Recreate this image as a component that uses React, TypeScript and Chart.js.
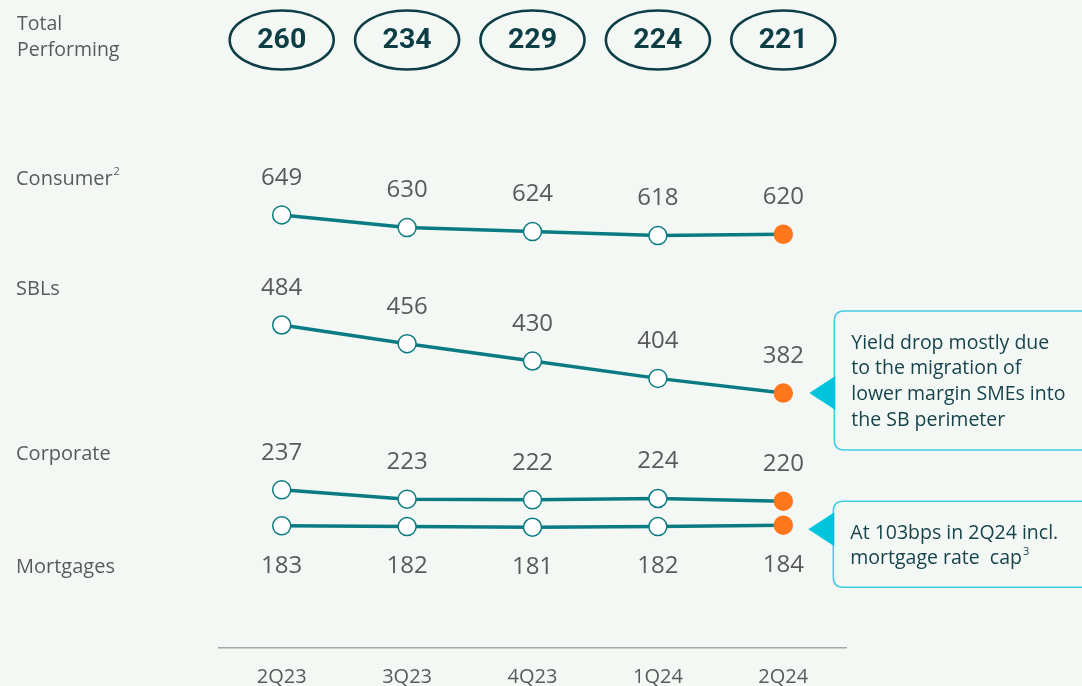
import React, { useEffect, useRef } from "react";
import { Chart, registerables } from "chart.js";

Chart.register(...registerables);

// ---------- data ----------
const quarters = ["2Q23", "3Q23", "4Q23", "1Q24", "2Q24"];
const totalPerforming = [260, 234, 229, 224, 221];
const consumer = [649, 630, 624, 618, 620];
const sbls = [484, 456, 430, 404, 382];
const corporate = [237, 223, 222, 224, 220];
const mortgages = [183, 182, 181, 182, 184];
const seriesNames = ["Consumer", "SBLs", "Corporate", "Mortgages"];
const seriesSup = ["2", "", "", ""];
const labelSide = ["above", "above", "above", "below"];
const noteSBL = ["Yield drop mostly due", "to the migration of", "lower margin SMEs into", "the SB perimeter"];
const noteMortgage = ["At 103bps in 2Q24 incl.", "mortgage rate  cap"];
const noteMortgageSup = "3";

// ---------- styles ----------
const BG = "#f4f8f5";
const TEAL = "#0a7b82";
const ORANGE = "#ff761b";
const GREY_TEXT = "#5a5a5a";
const DARK = "#0d3d45";
const NOTE_TEXT = "#17434c";
const CYAN = "#00c4dc";
const CYAN_BORDER = "#3fcde2";
const FONT = "'Open Sans', sans-serif";

function drawSup(ctx: CanvasRenderingContext2D, text: string, sup: string, x: number, y: number, size: number, color: string) {
  ctx.save();
  ctx.fillStyle = color;
  ctx.font = `${size}px ${FONT}`;
  ctx.textAlign = "left";
  ctx.textBaseline = "middle";
  ctx.fillText(text, x, y);
  if (sup) {
    const w = ctx.measureText(text).width;
    ctx.font = `${Math.round(size * 0.55)}px ${FONT}`;
    ctx.fillText(sup, x + w + 1, y - size * 0.35);
  }
  ctx.restore();
}

function roundRect(ctx: CanvasRenderingContext2D, x: number, y: number, w: number, h: number, r: number) {
  ctx.beginPath();
  ctx.moveTo(x + r, y);
  ctx.lineTo(x + w - r, y);
  ctx.quadraticCurveTo(x + w, y, x + w, y + r);
  ctx.lineTo(x + w, y + h - r);
  ctx.quadraticCurveTo(x + w, y + h, x + w - r, y + h);
  ctx.lineTo(x + r, y + h);
  ctx.quadraticCurveTo(x, y + h, x, y + h - r);
  ctx.lineTo(x, y + r);
  ctx.quadraticCurveTo(x, y, x + r, y);
  ctx.closePath();
}

function drawNote(ctx: CanvasRenderingContext2D, px: number, py: number, lines: string[], sup: string, tipDy: number, topDy: number, h: number) {
  const tipX = px + 26;
  const tipY = py + tipDy;
  const boxX = tipX + 25;
  const boxY = py + topDy;
  ctx.save();
  roundRect(ctx, boxX, boxY, 300, h, 10);
  ctx.fillStyle = BG;
  ctx.fill();
  ctx.strokeStyle = CYAN_BORDER;
  ctx.lineWidth = 1.5;
  ctx.stroke();
  ctx.beginPath();
  ctx.moveTo(tipX, tipY);
  ctx.lineTo(boxX + 1, tipY - 17);
  ctx.lineTo(boxX + 1, tipY + 17);
  ctx.closePath();
  ctx.fillStyle = CYAN;
  ctx.fill();
  ctx.restore();
  lines.forEach((ln, i) => {
    drawSup(ctx, ln, i === lines.length - 1 ? sup : "", boxX + 17, boxY + 32 + i * 25.7, 19.5, NOTE_TEXT);
  });
}

const decorPlugin = {
  id: "decor",
  beforeDraw(chart: any) {
    const { ctx, width, height } = chart;
    ctx.save();
    ctx.fillStyle = BG;
    ctx.fillRect(0, 0, width, height);
    ctx.restore();
  },
  afterDatasetsDraw(chart: any) {
    const { ctx } = chart;
    const xs = chart.scales.x;
    // Total performing ovals
    drawSup(ctx, "Total", "", 17, 24, 19.5, GREY_TEXT);
    drawSup(ctx, "Performing", "", 17, 50, 19.5, GREY_TEXT);
    totalPerforming.forEach((v, i) => {
      const cx = xs.getPixelForValue(i);
      ctx.save();
      ctx.beginPath();
      ctx.ellipse(cx, 40, 52, 29.5, 0, 0, Math.PI * 2);
      ctx.strokeStyle = DARK;
      ctx.lineWidth = 2.6;
      ctx.stroke();
      ctx.fillStyle = DARK;
      ctx.font = `bold 28.5px Roboto, 'Liberation Sans', sans-serif`;
      ctx.textAlign = "center";
      ctx.textBaseline = "middle";
      ctx.fillText(String(v), cx, 41);
      ctx.restore();
    });
    // value labels and series names
    chart.data.datasets.forEach((ds: any, di: number) => {
      const meta = chart.getDatasetMeta(di);
      const dy = labelSide[di] === "above" ? -37 : 40;
      meta.data.forEach((pt: any, i: number) => {
        ctx.save();
        ctx.fillStyle = GREY_TEXT;
        ctx.font = `24px ${FONT}`;
        ctx.textAlign = "center";
        ctx.textBaseline = "middle";
        ctx.fillText(String(ds.data[i]), pt.x, pt.y + dy);
        ctx.restore();
      });
      const first = meta.data[0];
      drawSup(ctx, seriesNames[di], seriesSup[di], 16, first.y + dy + 1, 20, GREY_TEXT);
    });
    // callouts
    const sMeta = chart.getDatasetMeta(1).data;
    const sLast = sMeta[sMeta.length - 1];
    drawNote(ctx, sLast.x, sLast.y, noteSBL, "", 0, -82, 139);
    const mMeta = chart.getDatasetMeta(3).data;
    const mLast = mMeta[mMeta.length - 1];
    drawNote(ctx, mLast.x - 1, mLast.y, noteMortgage, noteMortgageSup, 4, -24, 86);
  },
};

function pointColors(n: number, normal: string, last: string) {
  return Array.from({ length: n }, (_, i) => (i === n - 1 ? last : normal));
}

export default function App() {
  const ref = useRef<HTMLCanvasElement>(null);
  useEffect(() => {
    if (!ref.current) return;
    Chart.defaults.font.family = FONT;
    const mk = (label: string, data: number[]) => ({
      label,
      data,
      borderColor: TEAL,
      borderWidth: 3.5,
      pointRadius: 9,
      pointHoverRadius: 9,
      pointBorderWidth: 1.5,
      pointBackgroundColor: pointColors(data.length, "#ffffff", ORANGE),
      pointBorderColor: pointColors(data.length, TEAL, ORANGE),
      tension: 0,
      clip: false as any,
    });
    const chart = new Chart(ref.current, {
      type: "line",
      data: {
        labels: quarters,
        datasets: [
          mk("Consumer", consumer),
          mk("SBLs", sbls),
          mk("Corporate", corporate),
          mk("Mortgages", mortgages),
        ],
      },
      options: {
        animation: false,
        responsive: false,
        devicePixelRatio: 1,
        layout: { autoPadding: false, padding: { left: 219, right: 236, top: 0, bottom: 0 } },
        plugins: { legend: { display: false }, tooltip: { enabled: false } },
        events: [],
        scales: {
          x: {
            type: "category",
            offset: true,
            grid: { display: false, drawTicks: false },
            border: { display: true, color: "#a6a6a6", width: 1.5 },
            ticks: { color: GREY_TEXT, font: { size: 20, family: FONT }, padding: 17, maxRotation: 0 },
            afterFit: (s: any) => {
              s.height = 62;
            },
          },
          y: {
            display: false,
            min: 0,
            max: 971,
          },
        },
      },
      plugins: [decorPlugin],
    });
    return () => chart.destroy();
  }, []);
  return (
    <div style={{ position: "fixed", left: 0, top: 0, width: 1082, height: 686, overflow: "hidden", background: BG }}>
      <canvas ref={ref} width={1082} height={710} style={{ display: "block", width: 1082, height: 710 }} />
    </div>
  );
}
